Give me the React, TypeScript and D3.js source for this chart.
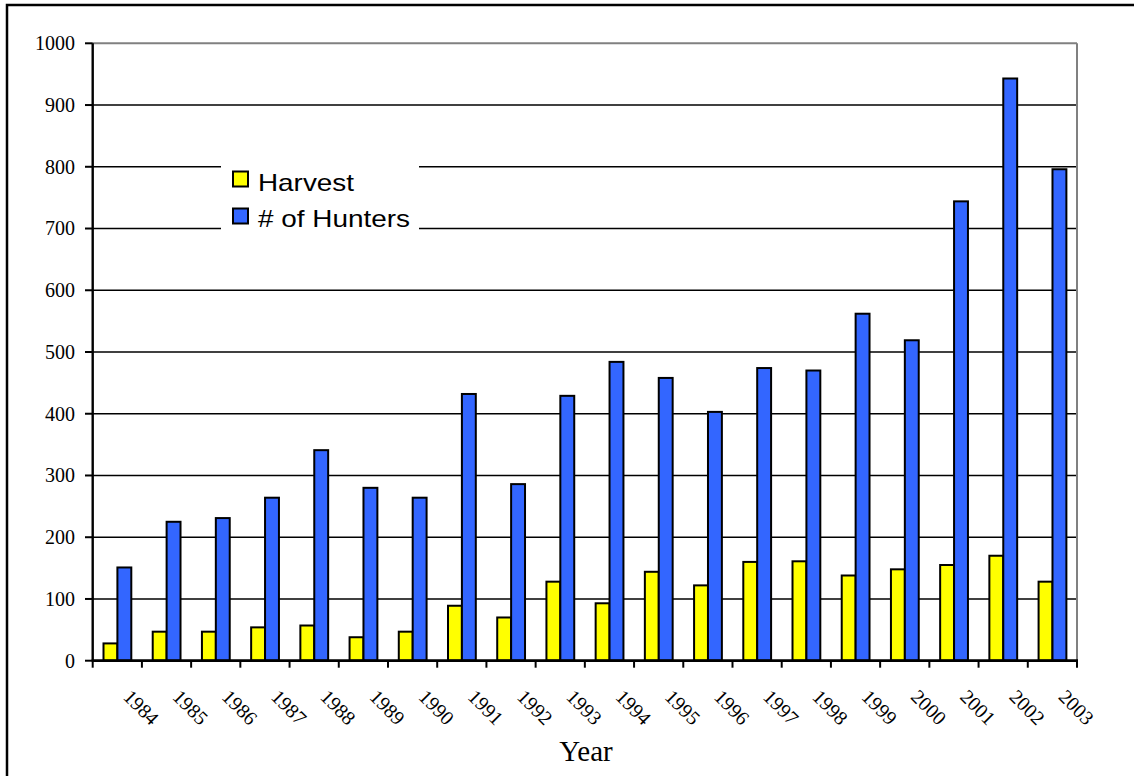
import React from "react";
import * as d3 from "d3";

const years = ["1984","1985","1986","1987","1988","1989","1990","1991","1992","1993","1994","1995","1996","1997","1998","1999","2000","2001","2002","2003"];
const harvest = [28,47,47,54,57,38,47,89,70,128,93,144,122,160,161,138,148,155,170,128];
const hunters = [151,225,231,264,341,280,264,432,286,429,484,458,403,474,470,562,519,744,943,796];
const seriesNames = ["Harvest", "# of Hunters"];
const seriesColors = ["#FFFF00", "#3366FF"];
const yTicks = [0,100,200,300,400,500,600,700,800,900,1000];

const W = 1134, H = 776;
const left = 92.7, right = 1077, top = 43.3, bottom = 660.7;
const serif = "'Times New Roman', 'Liberation Serif', serif";
const sans = "Arial, 'Liberation Sans', sans-serif";

export default function App() {
  const x = d3.scaleBand<string>().domain(years).range([left, right]).padding(0);
  const xs = d3.scaleBand<string>().domain(seriesNames).range([10.8, 38.6]).padding(0);
  const y = d3.scaleLinear().domain([0, 1000]).range([bottom, top]);
  const data = [harvest, hunters];
  const bw = x.bandwidth();
  const boundaries = years.map((yr) => x(yr)!).concat([right]);

  return (
    <svg width={W} height={H} style={{ position: "absolute", left: 0, top: 0, background: "#fff" }}>
      <rect x={7} y={5} width={W} height={H} fill="#fff" stroke="#000" strokeWidth={2.5} />
      {/* gridlines */}
      {yTicks.filter((t) => t > 0).map((t) => (
        <line key={"g" + t} x1={left} x2={right} y1={y(t)} y2={y(t)}
          stroke={t === 1000 ? "#808080" : "#000"} strokeWidth={t === 1000 ? 2 : 1.4} />
      ))}
      <line x1={right} x2={right} y1={top} y2={bottom} stroke="#808080" strokeWidth={2} />
      {/* bars */}
      {data.map((vals, si) =>
        vals.map((v, i) => (
          <rect key={si + "-" + i}
            x={x(years[i])! + xs(seriesNames[si])!}
            y={y(v)}
            width={xs.bandwidth()}
            height={y(0) - y(v)}
            fill={seriesColors[si]} stroke="#000" strokeWidth={2} />
        ))
      )}
      {/* axes */}
      <line x1={left} x2={left} y1={top} y2={bottom} stroke="#000" strokeWidth={2.4} />
      <line x1={left - 1} x2={right + 1} y1={bottom} y2={bottom} stroke="#000" strokeWidth={2.8} />
      {yTicks.map((t) => (
        <g key={"yt" + t}>
          <line x1={85} x2={left} y1={y(t)} y2={y(t)} stroke="#000" strokeWidth={2} />
          <text x={75} y={y(t)} dy="0.34em" textAnchor="end" fontFamily={serif} fontSize={20} fill="#000">{t}</text>
        </g>
      ))}
      {boundaries.map((bx, i) => (
        <line key={"xt" + i} x1={bx} x2={bx} y1={bottom} y2={bottom + 7} stroke="#000" strokeWidth={2} />
      ))}
      {years.map((yr) => {
        const cx = x(yr)! + bw / 2 + 5;
        const cy = 698;
        return (
          <text key={"xl" + yr} x={cx} y={cy} transform={`rotate(45, ${cx}, ${cy})`}
            fontFamily={serif} fontSize={20} fill="#000">{yr}</text>
        );
      })}
      <text x={586} y={761} textAnchor="middle" fontFamily={serif} fontSize={29} fill="#000">Year</text>
      {/* legend */}
      <rect x={221} y={150} width={198} height={90} fill="#fff" />
      {seriesNames.map((name, i) => (
        <g key={"lg" + i}>
          <rect x={233} y={171.5 + i * 37} width={15} height={15} fill={seriesColors[i]} stroke="#000" strokeWidth={2} />
          <text x={258} y={190.5 + i * 36} fontFamily={sans} fontSize={24} fill="#000"
            textLength={i === 0 ? 96 : 152} lengthAdjust="spacingAndGlyphs">{name}</text>
        </g>
      ))}
    </svg>
  );
}
